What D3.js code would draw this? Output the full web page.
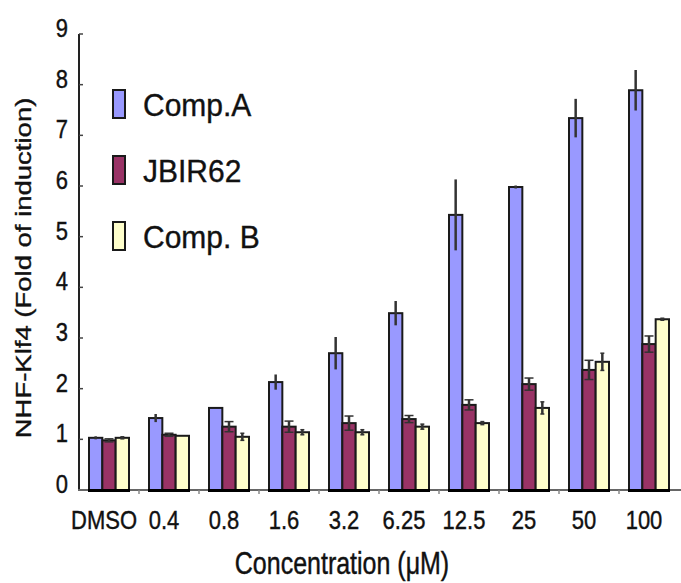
<!DOCTYPE html>
<html>
<head>
<meta charset="utf-8">
<script src="https://cdn.jsdelivr.net/npm/d3@7"></script>
<style>
  body { margin: 0; background: #fff; }
  text { font-family: "Liberation Sans", Arial, sans-serif; fill: #111; stroke: #111; stroke-width: 0.35; }
</style>
</head>
<body>
<div class="chart"></div>
<script>
const categories = ["DMSO", "0.4", "0.8", "1.6", "3.2", "6.25", "12.5", "25", "50", "100"];
const seriesNames = ["Comp.A", "JBIR62", "Comp. B"];
const compA = [1.03, 1.42, 1.62, 2.13, 2.7, 3.49, 5.43, 5.98, 7.34, 7.89];
const compAErr = [0.03, 0.08, 0, 0.15, 0.32, 0.24, 0.7, 0.03, 0.38, 0.4];
const jbir62 = [0.98, 1.09, 1.25, 1.25, 1.32, 1.4, 1.68, 2.09, 2.37, 2.88];
const jbir62Err = [0.03, 0.03, 0.1, 0.11, 0.14, 0.07, 0.1, 0.12, 0.19, 0.16];
const compB = [1.03, 1.07, 1.05, 1.14, 1.14, 1.25, 1.32, 1.62, 2.53, 3.37];
const compBErr = [0.02, 0, 0.07, 0.05, 0.05, 0.05, 0.03, 0.12, 0.17, 0.02];
const yTicks = [0, 1, 2, 3, 4, 5, 6, 7, 8, 9];

const colors = ["#9999ff", "#993366", "#ffffcc"];
const capWidth = [0, 9, 4];

const width = 681;
const height = 583;

const values = [compA, jbir62, compB];
const errors = [compAErr, jbir62Err, compBErr];

const data = categories.map((c, i) => ({
  cat: c,
  bars: seriesNames.map((s, j) => ({ s: s, j: j, v: values[j][i], e: errors[j][i] })),
}));

const svg = d3
  .select(".chart")
  .append("svg")
  .attr("width", width)
  .attr("height", height);

const x0 = d3
  .scaleBand()
  .domain(categories)
  .range([79, 679])
  .paddingInner(1 / 3)
  .paddingOuter(1 / 6);

const x1 = d3.scaleBand().domain(seriesNames).range([0, x0.bandwidth()]);

const y = d3.scaleLinear().domain([0, 9]).range([490, 34]);

// y axis
const yAxis = svg.append("g").attr("transform", "translate(79,0)");
yAxis
  .append("line")
  .attr("y1", y(0))
  .attr("y2", y(9))
  .attr("stroke", "#222")
  .attr("stroke-width", 2);
yAxis
  .selectAll(".ytick")
  .data(yTicks)
  .join("line")
  .attr("x1", 0)
  .attr("x2", 4)
  .attr("y1", (d) => y(d))
  .attr("y2", (d) => y(d))
  .attr("stroke", "#444")
  .attr("stroke-width", 1.5);
yAxis
  .selectAll(".ylab")
  .data(yTicks)
  .join("text")
  .attr("text-anchor", "end")
  .attr("font-size", 22)
  .attr("transform", (d) => `translate(-11,${y(d) + 3}) scale(1,1.2)`)
  .text((d) => d);

// x axis
svg
  .append("line")
  .attr("x1", 78)
  .attr("x2", 681)
  .attr("y1", y(0))
  .attr("y2", y(0))
  .attr("stroke", "#666")
  .attr("stroke-width", 2);

svg
  .selectAll(".xtick")
  .data(categories.slice(1))
  .join("line")
  .attr("x1", (d) => x0(d) - x0.step() * x0.paddingInner() / 2)
  .attr("x2", (d) => x0(d) - x0.step() * x0.paddingInner() / 2)
  .attr("y1", y(0))
  .attr("y2", y(0) + 4)
  .attr("stroke", "#888")
  .attr("stroke-width", 1.5);

svg
  .selectAll(".xlab")
  .data(categories)
  .join("text")
  .attr("text-anchor", "middle")
  .attr("font-size", 22)
  .attr("transform", (d) => `translate(${x0(d) + x0.bandwidth() / 2 - 5},529) scale(1,1.2)`)
  .text((d) => d);

// bars
const groups = svg
  .selectAll(".group")
  .data(data)
  .join("g")
  .attr("transform", (d) => `translate(${x0(d.cat)},0)`);

groups
  .selectAll("rect")
  .data((d) => d.bars)
  .join("rect")
  .attr("x", (d) => x1(d.s))
  .attr("y", (d) => y(d.v))
  .attr("width", x1.bandwidth())
  .attr("height", (d) => y(0) - y(d.v))
  .attr("fill", (d) => colors[d.j])
  .attr("stroke", "#1a1a1a")
  .attr("stroke-width", 2);

// bottom edges of groups drawn thick
groups
  .append("line")
  .attr("x1", -1)
  .attr("x2", x0.bandwidth() + 1)
  .attr("y1", y(0) + 0.5)
  .attr("y2", y(0) + 0.5)
  .attr("stroke", "#000")
  .attr("stroke-width", 3);

// error bars
const err = groups
  .selectAll(".err")
  .data((d) => d.bars.filter((b) => b.e > 0))
  .join("g");

err
  .append("line")
  .attr("x1", (d) => x1(d.s) + x1.bandwidth() / 2)
  .attr("x2", (d) => x1(d.s) + x1.bandwidth() / 2)
  .attr("y1", (d) => y(d.v + d.e))
  .attr("y2", (d) => y(d.v - d.e))
  .attr("stroke", "#333")
  .attr("stroke-width", 2.5);

err
  .filter((d) => capWidth[d.j] > 0)
  .selectAll(".cap")
  .data((d) => [
    { d: d, v: d.v + d.e },
    { d: d, v: d.v - d.e },
  ])
  .join("line")
  .attr("x1", (c) => x1(c.d.s) + x1.bandwidth() / 2 - capWidth[c.d.j] / 2)
  .attr("x2", (c) => x1(c.d.s) + x1.bandwidth() / 2 + capWidth[c.d.j] / 2)
  .attr("y1", (c) => y(c.v))
  .attr("y2", (c) => y(c.v))
  .attr("stroke", "#333")
  .attr("stroke-width", 1.5);

// legend
const legend = svg
  .selectAll(".legend")
  .data(seriesNames)
  .join("g")
  .attr("transform", (d, i) => `translate(113,${90 + i * 66})`);

legend
  .append("rect")
  .attr("width", 12)
  .attr("height", 28)
  .attr("fill", (d, i) => colors[i])
  .attr("stroke", "#1a1a1a")
  .attr("stroke-width", 2);

legend
  .append("text")
  .attr("x", 30)
  .attr("font-size", 30)
  .attr("transform", "translate(0,26) scale(1,1.05)")
  .text((d) => d);

// axis titles
svg
  .append("text")
  .attr("text-anchor", "middle")
  .attr("font-size", 22)
  .attr("transform", "translate(31,268) scale(1,1.25) rotate(-90)")
  .text("NHF-Klf4 (Fold of induction)");

svg
  .append("text")
  .attr("text-anchor", "middle")
  .attr("font-size", 25)
  .attr("transform", "translate(342,574) scale(1,1.25)")
  .text("Concentration (\u03bcM)");
</script>
</body>
</html>
